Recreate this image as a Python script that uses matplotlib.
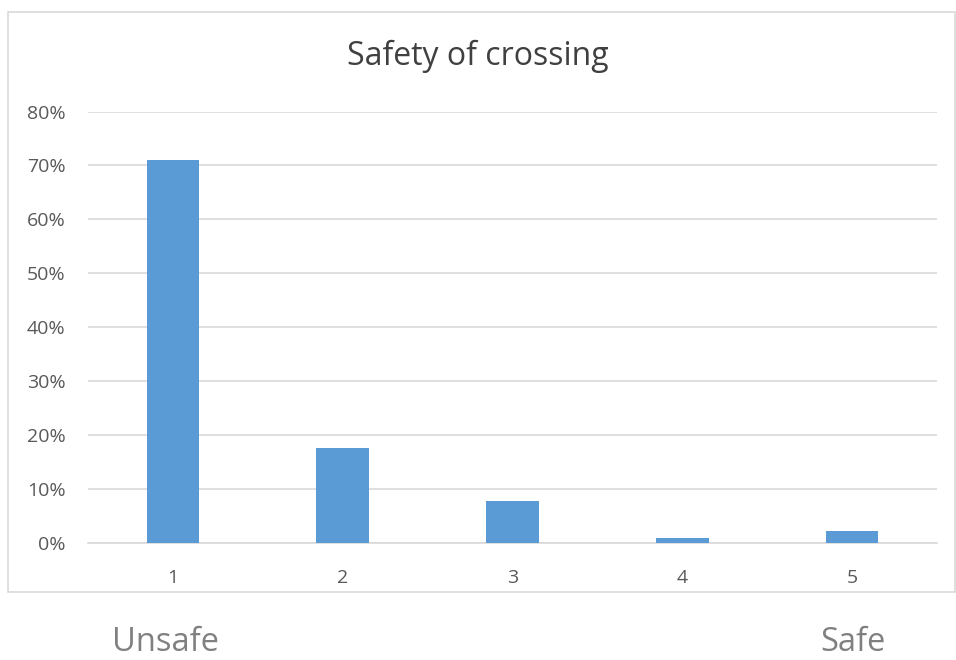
import matplotlib.pyplot as plt
from matplotlib.patches import Rectangle
from matplotlib.ticker import FuncFormatter

# data
categories = ['1', '2', '3', '4', '5']
shares = [71.1, 17.7, 7.8, 1.0, 2.2]  # percent of responses
yticks = [0, 10, 20, 30, 40, 50, 60, 70, 80]

plt.rcParams['font.family'] = ['Open Sans', 'DejaVu Sans']

fig = plt.figure(figsize=(9.56, 6.6), dpi=100)

# chart border like the Excel chart area
fig.patches.append(Rectangle((0.0084, 0.103), 0.9906, 0.879, transform=fig.transFigure,
                             fill=False, edgecolor='#d9d9d9', linewidth=1.2))

ax = fig.add_axes([0.092, 0.1773, 0.888, 0.6537])
ax.bar(categories, shares, width=0.31, color='#5b9bd5', zorder=3)

ax.set_ylim(0, 80)
ax.set_xlim(-0.5, 4.5)
ax.set_yticks(yticks)
ax.yaxis.set_major_formatter(FuncFormatter(lambda v, p: f'{v:.0f}%'))
ax.grid(axis='y', color='#d9d9d9', linewidth=1.2, zorder=0)
for s in ['top', 'right', 'left']:
    ax.spines[s].set_visible(False)
ax.spines['bottom'].set_color('#d9d9d9')
ax.spines['bottom'].set_linewidth(1.2)
ax.tick_params(length=0, colors='#595959', labelsize=14)
ax.tick_params(axis='y', pad=16)
ax.tick_params(axis='x', pad=19)

fig.text(0.5, 0.914, 'Safety of crossing', ha='center', va='center',
         fontsize=23, color='#404040')

fig.text(0.173, 0.027, 'Unsafe', ha='center', va='center', fontsize=23.5, color='#808080')
fig.text(0.892, 0.027, 'Safe', ha='center', va='center', fontsize=23.5, color='#808080')

fig.savefig('out.png', dpi=100)
